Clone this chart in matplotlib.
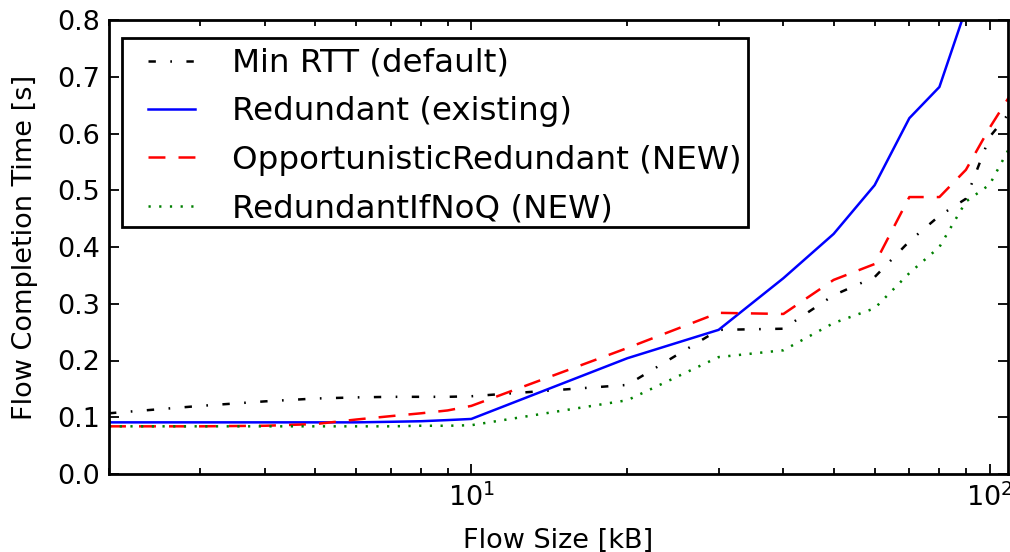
import matplotlib
matplotlib.use("Agg")
import matplotlib.pyplot as plt
from matplotlib.patches import Rectangle

plt.rcParams['lines.scale_dashes'] = False
plt.rcParams['font.family'] = ['DejaVu Sans']

flow_size = [2, 3, 4, 5, 6, 7, 8, 9, 10, 20, 30, 40, 50, 60, 70, 80, 90, 100, 110]
min_rtt = [0.107, 0.120, 0.128, 0.133, 0.135, 0.136, 0.136, 0.136, 0.137, 0.157, 0.254, 0.256, 0.315, 0.347, 0.410, 0.455, 0.485, 0.594, 0.640]
redundant = [0.091, 0.091, 0.091, 0.091, 0.091, 0.092, 0.093, 0.095, 0.097, 0.204, 0.254, 0.345, 0.423, 0.509, 0.627, 0.682, 0.820, 1.000, 1.100]
opp_redundant = [0.084, 0.084, 0.085, 0.088, 0.096, 0.102, 0.107, 0.112, 0.120, 0.222, 0.284, 0.282, 0.342, 0.370, 0.488, 0.488, 0.536, 0.610, 0.670]
red_if_noq = [0.084, 0.084, 0.084, 0.084, 0.084, 0.084, 0.085, 0.085, 0.086, 0.130, 0.206, 0.218, 0.266, 0.292, 0.354, 0.400, 0.480, 0.510, 0.580]

labels = ["Min RTT (default)", "Redundant (existing)",
          "OpportunisticRedundant (NEW)", "RedundantIfNoQ (NEW)"]

W, H = 1010, 552
fig = plt.figure(figsize=(W/100, H/100), dpi=100)
ax = fig.add_axes([109/W, 1-474/H, 899/W, 454/H])

LW = 1.8
ax.plot(flow_size, min_rtt, color='k', lw=LW, linestyle=(0, (5.3, 10.4, 1.2, 10.4)), label=labels[0])
ax.plot(flow_size, redundant, color='#0000ff', lw=LW, linestyle='-', label=labels[1])
ax.plot(flow_size, opp_redundant, color='#ff0000', lw=LW, linestyle=(0, (12.2, 9.4)), label=labels[2])
ax.plot(flow_size, red_if_noq, color='#008000', lw=LW, linestyle=(0, (1.6, 6.1)), label=labels[3])

ax.set_xscale('log')
ax.set_xlim(2, 108.5)
ax.set_ylim(0, 0.8)
ax.set_yticks([0.0, 0.1, 0.2, 0.3, 0.4, 0.5, 0.6, 0.7, 0.8])

for s in ax.spines.values():
    s.set_linewidth(2.0)
ax.tick_params(which='both', direction='in', top=True, right=True, labelsize=19.5, width=1.3)
ax.tick_params(which='major', length=7.5, pad=6.5)
ax.tick_params(which='minor', length=4.5)

ax.set_xlabel("Flow Size [kB]", fontsize=19.5)
ax.set_ylabel("Flow Completion Time [s]", fontsize=19.5)
ax.xaxis.set_label_coords(0.5, (474-528)/454)
ax.yaxis.set_label_coords((38-109)/899, 0.5)

# legend frame (drawn separately to match the reference box)
frame = Rectangle((122/W, 1-227/H), 626/W, 189/H, transform=fig.transFigure,
                  facecolor='white', edgecolor='k', lw=2.0, zorder=4.9, clip_on=False)
ax.add_artist(frame)

leg = ax.legend(loc='upper left', bbox_to_anchor=(148/W, 1-48/H),
                bbox_transform=fig.transFigure, borderaxespad=0, frameon=False,
                fontsize=23.4, handlelength=1.45, handletextpad=1.12,
                borderpad=0, labelspacing=0.535)
leg.set_zorder(5)

fig.savefig("out.png", dpi=100)
